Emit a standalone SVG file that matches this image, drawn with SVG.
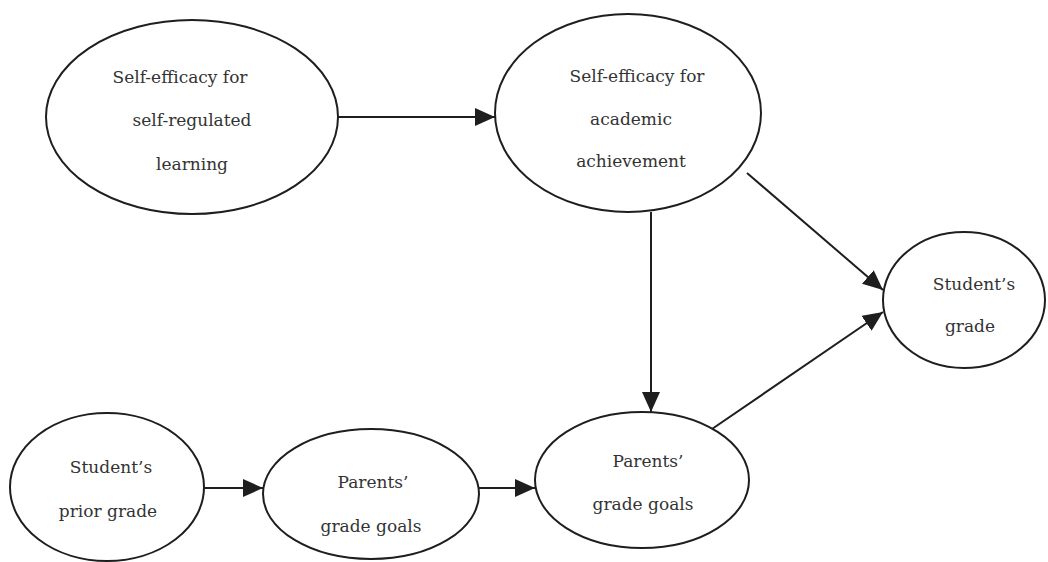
<svg xmlns="http://www.w3.org/2000/svg" width="1048" height="562" viewBox="0 0 1048 562">
<style>
.node ellipse{fill:#fff;stroke:#1e1e1e;stroke-width:2}
.node text{font-family:"DejaVu Serif","Liberation Serif",serif;font-size:17px;fill:#333;text-anchor:middle}
.edges line{stroke:#1e1e1e;stroke-width:2;marker-end:url(#arr)}
</style>
<defs>
<marker id="arr" viewBox="0 0 20 18" refX="20" refY="9" markerWidth="20" markerHeight="18" markerUnits="userSpaceOnUse" orient="auto">
<path d="M0,0 L20,9 L0,18 z" fill="#1e1e1e"/>
</marker>
</defs>
<rect width="1048" height="562" fill="#fff"/>
<g id="n1" class="node">
<ellipse cx="192" cy="117" rx="146" ry="97"/>
<text x="180" y="83">Self-efficacy for</text>
<text x="192" y="126">self-regulated</text>
<text x="192" y="170">learning</text>
</g>
<g id="n2" class="node">
<ellipse cx="628" cy="113" rx="133" ry="99"/>
<text x="637" y="82">Self-efficacy for</text>
<text x="631" y="125">academic</text>
<text x="631" y="167">achievement</text>
</g>
<g id="n3" class="node">
<ellipse cx="107" cy="487" rx="97" ry="74"/>
<text x="111" y="473">Student’s</text>
<text x="108" y="517">prior grade</text>
</g>
<g id="n4" class="node">
<ellipse cx="371" cy="494" rx="108" ry="65"/>
<text x="373" y="488">Parents’</text>
<text x="371" y="532">grade goals</text>
</g>
<g id="n5" class="node">
<ellipse cx="642" cy="480" rx="107" ry="68"/>
<text x="648" y="467">Parents’</text>
<text x="643" y="510">grade goals</text>
</g>
<g id="n6" class="node">
<ellipse cx="964" cy="300" rx="81" ry="68"/>
<text x="974" y="290">Student’s</text>
<text x="970" y="332">grade</text>
</g>
<g id="edges" class="edges">
<line x1="338" y1="117" x2="495" y2="117"/>
<line x1="204" y1="488" x2="263" y2="488"/>
<line x1="478" y1="488" x2="535" y2="488"/>
<line x1="651" y1="212" x2="651" y2="412"/>
<line x1="747" y1="173" x2="883" y2="290"/>
<line x1="712" y1="429" x2="883" y2="312"/>
</g>
</svg>
